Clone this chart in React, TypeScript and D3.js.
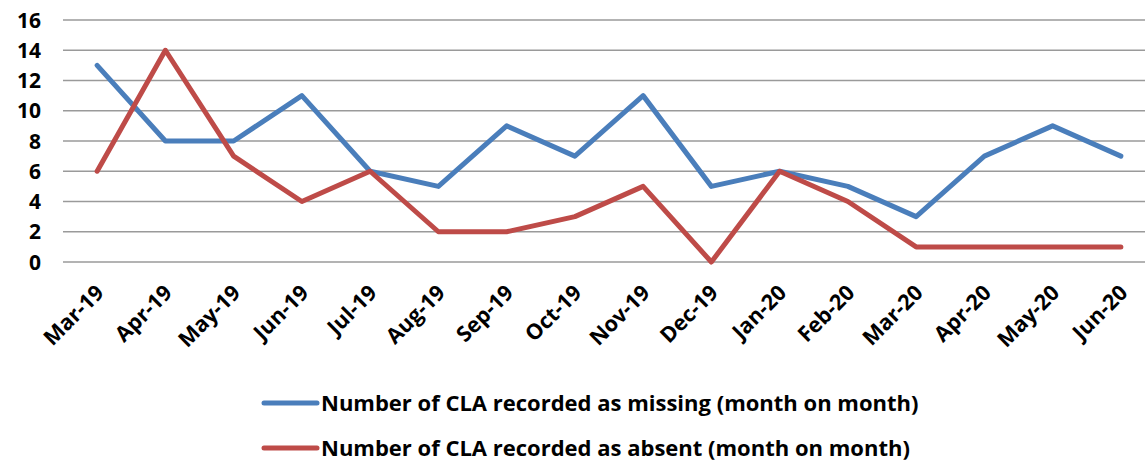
import React from "react";
import * as d3 from "d3";

const months = ["Mar-19", "Apr-19", "May-19", "Jun-19", "Jul-19", "Aug-19", "Sep-19", "Oct-19",
  "Nov-19", "Dec-19", "Jan-20", "Feb-20", "Mar-20", "Apr-20", "May-20", "Jun-20"];
const missing = [13, 8, 8, 11, 6, 5, 9, 7, 11, 5, 6, 5, 3, 7, 9, 7];
const absent = [6, 14, 7, 4, 6, 2, 2, 3, 5, 0, 6, 4, 1, 1, 1, 1];
const yTicks = [0, 2, 4, 6, 8, 10, 12, 14, 16];
const seriesNames = [
  "Number of CLA recorded as missing (month on month)",
  "Number of CLA recorded as absent (month on month)",
];
const colors = ["#4a7ebb", "#be4b48"];

const W = 1145, H = 462;
const plot = { left: 63, right: 1155, top: 20, bottom: 262 };
const font = "'Open Sans', 'Noto Sans', sans-serif";

export default function App() {
  const x = d3.scaleBand<string>().domain(months).range([plot.left, plot.right]);
  const cx = (m: string) => (x(m) || 0) + x.bandwidth() / 2;
  const y = d3.scaleLinear().domain([0, 16]).range([plot.bottom, plot.top]);
  const line = d3.line<number>().x((_, i) => cx(months[i])).y(d => y(d));
  const series = [missing, absent];

  return (
    <svg width={W} height={H} style={{ position: "absolute", left: 0, top: 0 }}>
      <rect width={W} height={H} fill="#fff" />
      {yTicks.map(t => (
        <g key={t}>
          <line x1={plot.left} x2={plot.right} y1={y(t)} y2={y(t)} stroke="#9a9a9a" strokeWidth={1.5} />
          <text x={41} y={y(t)} dy="0.36em" textAnchor="end" fontFamily={font} fontWeight="bold" fontSize={21}>{t}</text>
        </g>
      ))}
      {months.map(m => (
        <text key={m} transform={`translate(${cx(m) + 8},${plot.bottom + 32}) rotate(-45)`}
          textAnchor="end" fontFamily={font} fontWeight="bold" fontSize={21.5}>{m}</text>
      ))}
      {series.map((s, i) => (
        <path key={i} d={line(s) || ""} fill="none" stroke={colors[i]} strokeWidth={5}
          strokeLinejoin="round" strokeLinecap="round" />
      ))}
      {seriesNames.map((n, i) => (
        <g key={n} transform={`translate(0,${403 + i * 45})`}>
          <line x1={264} x2={317} y1={0} y2={0} stroke={colors[i]} strokeWidth={5} strokeLinecap="round" />
          <text x={321} y={0} dy="0.35em" fontFamily={font} fontWeight="bold" fontSize={22}>{n}</text>
        </g>
      ))}
    </svg>
  );
}
